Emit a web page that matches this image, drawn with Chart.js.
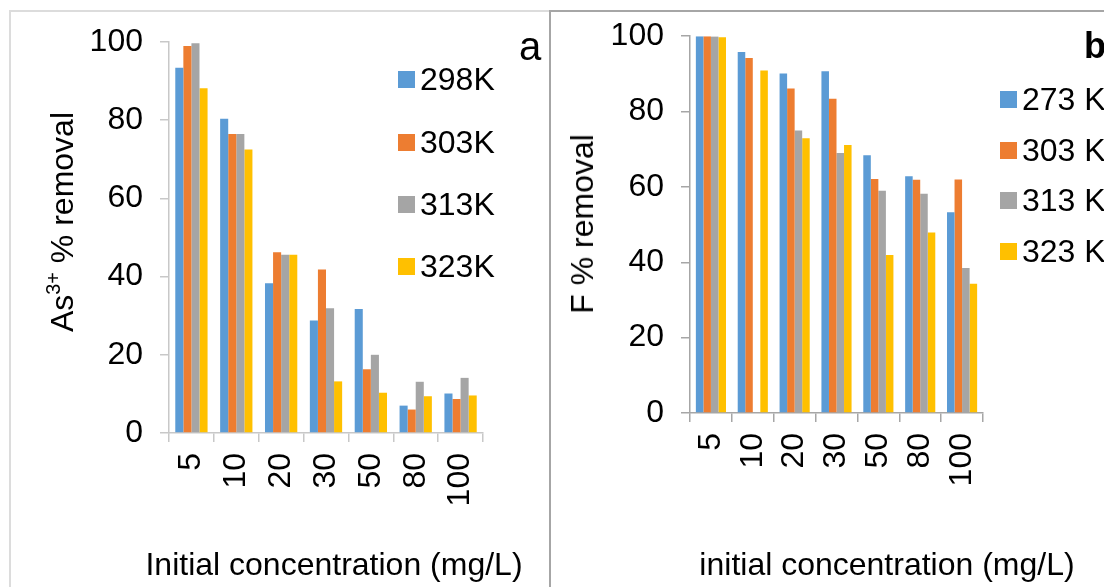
<!DOCTYPE html>
<html>
<head>
<meta charset="utf-8">
<script src="https://cdn.jsdelivr.net/npm/chart.js@4.4.1/dist/chart.umd.min.js"></script>
<style>
	body { margin: 0; background: #fff; font-family: 'Liberation Sans', Arial, sans-serif; }
	#page { position: relative; width: 1104px; height: 587px; overflow: hidden; }
	.panel { position: absolute; box-sizing: border-box; }
	#panelA { left: 9px; top: 10px; width: 541px; height: 600px; border-top: 2px solid #dcdcdc; border-left: 2px solid #dcdcdc; }
	#panelB { left: 549px; top: 10px; width: 600px; height: 600px; border-top: 2px solid #a6a6a6; border-left: 2px solid #a6a6a6; }
	canvas { position: absolute; top: 0; }
	.txt { position: absolute; line-height: 1; white-space: nowrap; color: #000; }
	.ytitle { transform: translate(-50%, -50%) rotate(-90deg); font-size: 32px; }
	.xtitle { transform: translateX(-50%); font-size: 32px; }
	.legend-row { position: absolute; display: flex; align-items: center; font-size: 32px; line-height: 1; white-space: nowrap; width: max-content; transform: translateY(-50%); }
	.legend-row span.box { display: inline-block; width: 17px; height: 17px; margin-right: 5px; flex: none; }
	sup { font-size: 0.62em; line-height: 0; vertical-align: 0.68em; }
</style>
</head>
<body>
<div id="page">
	<div class="panel" id="panelA"></div>
	<div class="panel" id="panelB"></div>
	<canvas id="chartA" width="549" height="587" style="left:0"></canvas>
	<canvas id="chartB" width="553" height="587" style="left:551px"></canvas>

	<div class="txt ytitle" style="left:62px; top:222px">As<sup>3+</sup> % removal</div>
	<div class="txt xtitle" style="left:334px; top:548px">Initial concentration (mg/L)</div>
	<div class="txt" style="left:519px; top:26px; font-size:40px">a</div>

	<div class="txt ytitle" style="left:582px; top:224px">F % removal</div>
	<div class="txt xtitle" style="left:887px; top:548px">initial concentration (mg/L)</div>
	<div class="txt" style="left:1084px; top:28px; font-size:36px; font-weight:bold">b</div>

	<div id="legendA"></div>
	<div id="legendB"></div>
</div>

<script>
const categories = ['5', '10', '20', '30', '50', '80', '100'];

// panel a: As(III) % removal
const asLabels = ['298K', '303K', '313K', '323K'];
const as298 = [93.4, 80.4, 38.3, 28.8, 31.7, 7.0, 10.1];
const as303 = [99.0, 76.5, 46.2, 41.8, 16.3, 6.0, 8.7];
const as313 = [99.7, 76.5, 45.6, 31.9, 20.0, 13.1, 14.1];
const as323 = [88.2, 72.5, 45.6, 13.2, 10.3, 9.4, 9.6];

// panel b: F % removal (313 K at 10 mg/L has no bar)
const fLabels = ['273 K', '303 K', '313 K', '323 K'];
const f273 = [100, 95.8, 90.1, 90.7, 68.4, 62.8, 53.3];
const f303 = [100, 94.2, 86.1, 83.4, 62.1, 61.9, 62.0];
const f313 = [99.9, null, 75.0, 69.0, 59.0, 58.2, 38.5];
const f323 = [99.7, 90.9, 72.9, 71.1, 41.9, 47.9, 34.3];

const yTicks = [0, 20, 40, 60, 80, 100];
const colors = ['#5b9bd5', '#ed7d31', '#a5a5a5', '#ffc000'];

const fontFamily = "'Liberation Sans', Arial, sans-serif";

const makeDatasets = (labels, series) =>
	series.map((data, i) => ({
		label: labels[i],
		data: data,
		backgroundColor: colors[i],
		borderWidth: 0,
		categoryPercentage: 0.72,
		barPercentage: 1.0,
	}));

const makeChart = (id, labels, series, opts) => {
	const ctx = document.getElementById(id).getContext('2d');
	return new Chart(ctx, {
		type: 'bar',
		data: {
			labels: categories,
			datasets: makeDatasets(labels, series),
		},
		options: {
			responsive: false,
			animation: false,
			devicePixelRatio: 1,
			layout: { padding: opts.padding },
			plugins: {
				legend: { display: false },
				tooltip: { enabled: false },
			},
			scales: {
				x: {
					grid: { offset: true, drawOnChartArea: false, drawTicks: true, tickLength: 9, color: opts.axisColor, lineWidth: 1.5 },
					border: { display: true, color: opts.axisColor, width: 1.5 },
					ticks: {
						color: '#000',
						font: { family: fontFamily, size: 32 },
						minRotation: 90,
						maxRotation: 90,
						padding: 11,
						autoSkip: false,
					},
					afterFit: (scale) => { scale.height = opts.xHeight; },
				},
				y: {
					min: 0,
					max: 100,
					afterBuildTicks: (scale) => { scale.ticks = yTicks.map((v) => ({ value: v })); },
					grid: { drawOnChartArea: false, drawTicks: true, tickLength: 9, color: opts.axisColor, lineWidth: 1.5 },
					border: { display: true, color: opts.axisColor, width: 1.5 },
					ticks: {
						color: '#000',
						font: { family: fontFamily, size: 32 },
						padding: 17,
					},
					afterFit: (scale) => { scale.width = opts.yWidth; },
				},
			},
		},
	});
};

makeChart('chartA', asLabels, [as298, as303, as313, as323], {
	padding: { left: 0, top: 42, right: 66, bottom: 0 },
	xHeight: 154,
	yWidth: 169,
	axisColor: '#c8c8c8',
});

makeChart('chartB', fLabels, [f273, f303, f313, f323], {
	padding: { left: 0, top: 35, right: 121, bottom: 0 },
	xHeight: 174,
	yWidth: 139,
	axisColor: '#a6a6a6',
});

// legends as real text, one row per series
const buildLegend = (el, labels, left, rowsY) => {
	labels.forEach((label, i) => {
		const row = document.createElement('div');
		row.className = 'legend-row';
		row.style.left = left + 'px';
		row.style.top = rowsY[i] + 'px';
		const box = document.createElement('span');
		box.className = 'box';
		box.style.background = colors[i];
		row.appendChild(box);
		row.appendChild(document.createTextNode(label));
		el.appendChild(row);
	});
};

buildLegend(document.getElementById('legendA'), asLabels, 398, [79, 142, 204, 266]);
buildLegend(document.getElementById('legendB'), fLabels, 1000, [99, 150, 200, 251]);
</script>
</body>
</html>
